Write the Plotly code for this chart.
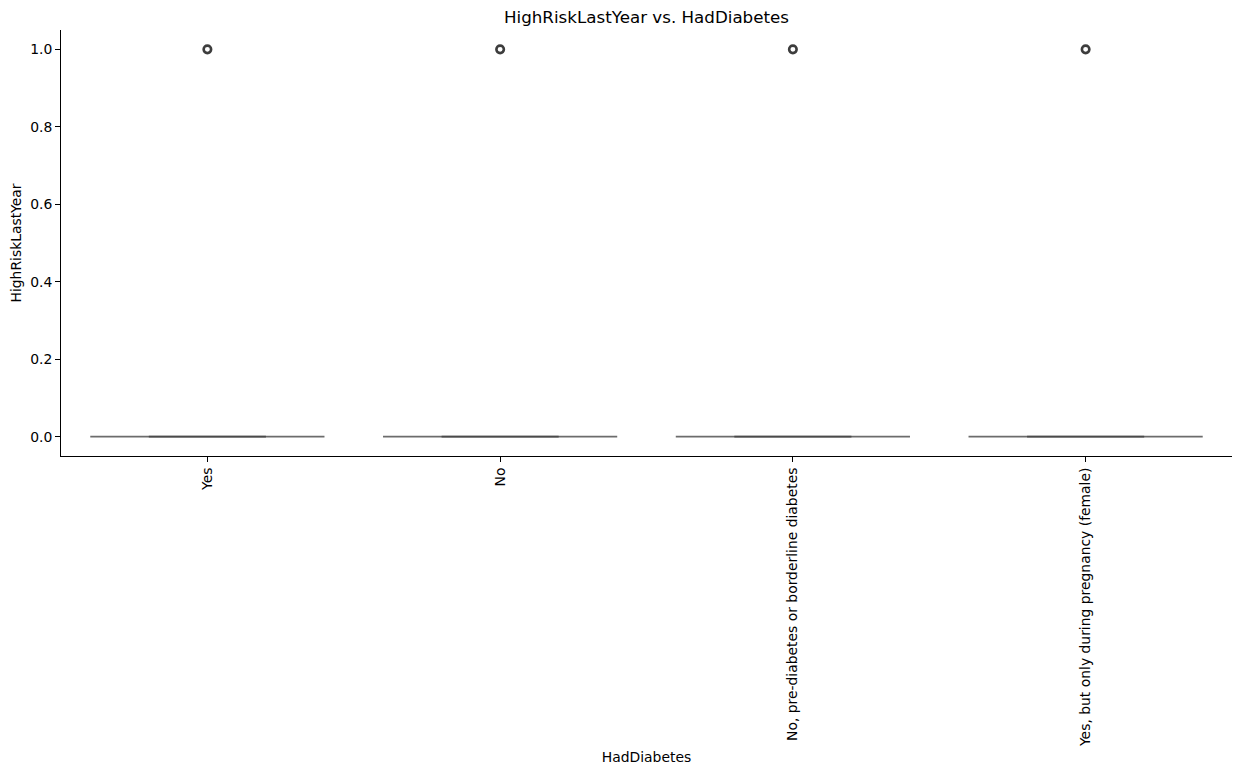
import plotly.graph_objects as go

categories = ["Yes", "No", "No, pre-diabetes or borderline diabetes", "Yes, but only during pregnancy (female)"]
q1 = [0, 0, 0, 0]
median = [0, 0, 0, 0]
q3 = [0, 0, 0, 0]
lower_fence = [0, 0, 0, 0]
upper_fence = [0, 0, 0, 0]
outliers = [1, 1, 1, 1]

font = "DejaVu Sans"
fig = go.Figure()
fig.add_trace(go.Box(
    x=categories, q1=q1, median=median, q3=q3,
    lowerfence=lower_fence, upperfence=upper_fence,
    width=0.8, whiskerwidth=0.5, boxpoints=False,
    fillcolor="rgba(31,119,180,1)", line=dict(color="#6c6c6c", width=1.8),
    showlegend=False, hoverinfo="skip",
))
fig.add_trace(go.Box(
    x=categories, q1=q1, median=median, q3=q3,
    lowerfence=lower_fence, upperfence=upper_fence,
    width=0.4, whiskerwidth=1, boxpoints=False,
    fillcolor="rgba(0,0,0,0)", line=dict(color="#4a4a4a", width=1.8),
    showlegend=False, hoverinfo="skip",
))
fig.add_trace(go.Scatter(
    x=categories, y=outliers, mode="markers",
    marker=dict(symbol="circle-open", size=7.5, color="#3d3d3d", line=dict(width=2.6, color="#3d3d3d")),
    showlegend=False,
))

fig.update_layout(
    width=1258, height=774,
    margin=dict(l=61, r=26, t=30, b=318, autoexpand=False),
    plot_bgcolor="white", paper_bgcolor="white",
    boxmode="overlay",
    font=dict(family=font, size=13.9, color="black"),
    title=dict(text="HighRiskLastYear vs. HadDiabetes", x=0.5, xanchor="center",
               xref="paper", y=1, yref="paper", yanchor="bottom", pad=dict(b=7),
               font=dict(size=16.7, family=font, color="black")),
    xaxis=dict(
        type="category", range=[-0.5, 3.5], tickangle=-90, automargin=False,
        showline=True, linecolor="black", linewidth=1, mirror=False,
        ticks="outside", ticklen=5, tickcolor="black", showgrid=False, zeroline=False,
        title=dict(text="HadDiabetes", font=dict(size=13.9), standoff=6),
        tickfont=dict(size=13.9),
    ),
    yaxis=dict(
        range=[-0.05, 1.05], tickvals=[0, 0.2, 0.4, 0.6, 0.8, 1.0], automargin=False,
        ticktext=["0.0", "0.2", "0.4", "0.6", "0.8", "1.0"],
        showline=True, linecolor="black", linewidth=1,
        ticks="outside", ticklen=5, tickcolor="black", showgrid=False, zeroline=False,
        title=dict(text="HighRiskLastYear", font=dict(size=13.9), standoff=5),
        tickfont=dict(size=13.9),
    ),
)
fig.write_html("out.html")
